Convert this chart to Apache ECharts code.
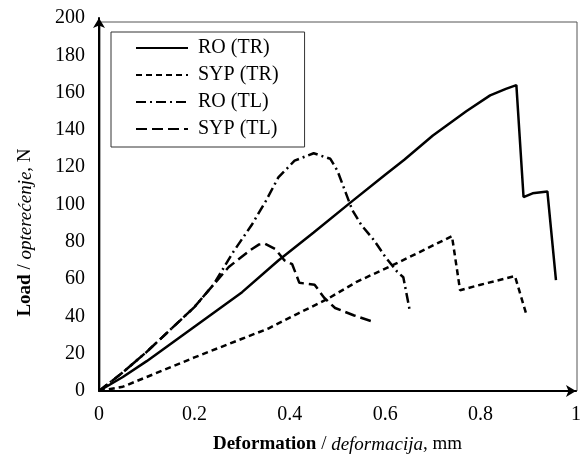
<!DOCTYPE html>
<html lang="en">
<head>
    <meta charset="UTF-8">
    <title>Load - deformation</title>
    <script src="https://cdn.jsdelivr.net/npm/echarts@6/dist/echarts.min.js"></script>
    <style>
        html, body { margin: 0; padding: 0; background: #fff; }
    </style>
</head>
<body>
    <div style="height: 461px;width: 584px" id="chart"></div>
    <script type="text/javascript">
        // series names (legend order)
        var seriesNames = ['RO (TR)', 'SYP (TR)', 'RO (TL)', 'SYP (TL)'];

        // [deformation mm, load N]
        var roTR = [[0, 0], [0.05, 7.5], [0.1, 16], [0.2, 34.5], [0.3, 53], [0.376, 70], [0.45, 85],
            [0.527, 101], [0.6, 116], [0.64, 124], [0.7, 137], [0.77, 150], [0.82, 158.5],
            [0.853, 162], [0.875, 164], [0.89, 104], [0.909, 106], [0.94, 107], [0.958, 59.5]];
        var sypTR = [[0, 0], [0.05, 2.3], [0.1, 7.5], [0.2, 18], [0.3, 28], [0.355, 33.5], [0.417, 41.5],
            [0.48, 49.5], [0.54, 58.5], [0.62, 68], [0.74, 83], [0.757, 54], [0.8, 57],
            [0.872, 61.6], [0.896, 41]];
        var roTL = [[0, 0], [0.05, 10], [0.1, 21], [0.15, 33], [0.2, 45], [0.24, 57], [0.28, 74],
            [0.32, 89], [0.35, 102], [0.376, 114.5], [0.41, 123.5], [0.45, 127.5], [0.485, 124.5],
            [0.5, 118], [0.517, 106.5], [0.531, 97], [0.55, 89], [0.576, 81], [0.6, 72],
            [0.625, 64], [0.638, 61], [0.652, 42.5]];
        var sypTL = [[0, 0], [0.05, 10], [0.1, 21], [0.15, 33], [0.2, 45], [0.24, 57], [0.272, 66.5],
            [0.317, 75.5], [0.335, 78.5], [0.348, 79], [0.37, 76], [0.389, 70], [0.405, 68],
            [0.42, 58], [0.452, 57], [0.472, 50], [0.495, 44.5], [0.535, 40.5], [0.576, 37]];

        var dashTypes = ['solid', [6, 4], [10, 4, 2, 4], [11, 5]];
        var seriesData = [roTR, sypTR, roTL, sypTL];

        var font = 'Liberation Serif';
        var myChart = echarts.init(document.getElementById('chart'));

        var option = {
            animation: false,
            backgroundColor: '#fff',
            grid: { left: 99, right: 3, top: 18, bottom: 70 },
            graphic: [{
                type: 'rect',
                z: 0,
                shape: { x: 100, y: 22, width: 477, height: 369 },
                style: { fill: 'none', stroke: '#555', lineWidth: 1 }
            }],
            legend: {
                orient: 'vertical',
                left: 111,
                top: 32,
                padding: [6, 26, 8, 24],
                itemGap: 7,
                itemWidth: 52,
                itemHeight: 14,
                borderColor: '#333',
                borderWidth: 1,
                backgroundColor: '#fff',
                data: seriesNames,
                itemStyle: { opacity: 0 },
                textStyle: { fontFamily: font, fontSize: 20, color: '#000', padding: [0, 0, 0, 5] }
            },
            xAxis: {
                type: 'value',
                min: 0,
                max: 1,
                interval: 0.2,
                name: '{b|Deformation} / {i|deformacija}, mm',
                nameLocation: 'middle',
                nameGap: 44,
                nameTextStyle: {
                    fontFamily: font, fontSize: 19, color: '#000',
                    rich: {
                        b: { fontFamily: font, fontSize: 19, fontWeight: 'bold', color: '#000' },
                        i: { fontFamily: font, fontSize: 19, fontStyle: 'italic', color: '#000' }
                    }
                },
                axisLine: { lineStyle: { color: '#000', width: 2 }, symbol: ['none', 'arrow'], symbolSize: [9, 10] },
                axisTick: { show: false },
                splitLine: { show: false },
                axisLabel: {
                    fontFamily: font, fontSize: 20, color: '#000', margin: 14,
                    formatter: function (v) { return String(Math.round(v * 10) / 10); }
                }
            },
            yAxis: {
                type: 'value',
                min: 0,
                max: 200,
                interval: 20,
                name: '{b|Load} / {i|opterećenje}, N',
                nameLocation: 'middle',
                nameGap: 64,
                nameTextStyle: {
                    fontFamily: font, fontSize: 19, color: '#000',
                    padding: [0, 56, 0, 0],
                    rich: {
                        b: { fontFamily: font, fontSize: 19, fontWeight: 'bold', color: '#000' },
                        i: { fontFamily: font, fontSize: 19, fontStyle: 'italic', color: '#000' }
                    }
                },
                axisLine: { lineStyle: { color: '#000', width: 2 }, symbol: ['none', 'arrow'], symbolSize: [9, 10] },
                axisTick: { show: false },
                splitLine: { show: false },
                axisLabel: { fontFamily: font, fontSize: 20, color: '#000', margin: 14 }
            },
            series: seriesNames.map(function (name, i) {
                return {
                    name: name,
                    type: 'line',
                    data: seriesData[i],
                    symbol: 'none',
                    color: '#000',
                    lineStyle: { color: '#000', width: 2.5, type: dashTypes[i] },
                    z: 3
                };
            })
        };

        myChart.setOption(option);
    </script>
</body>
</html>
